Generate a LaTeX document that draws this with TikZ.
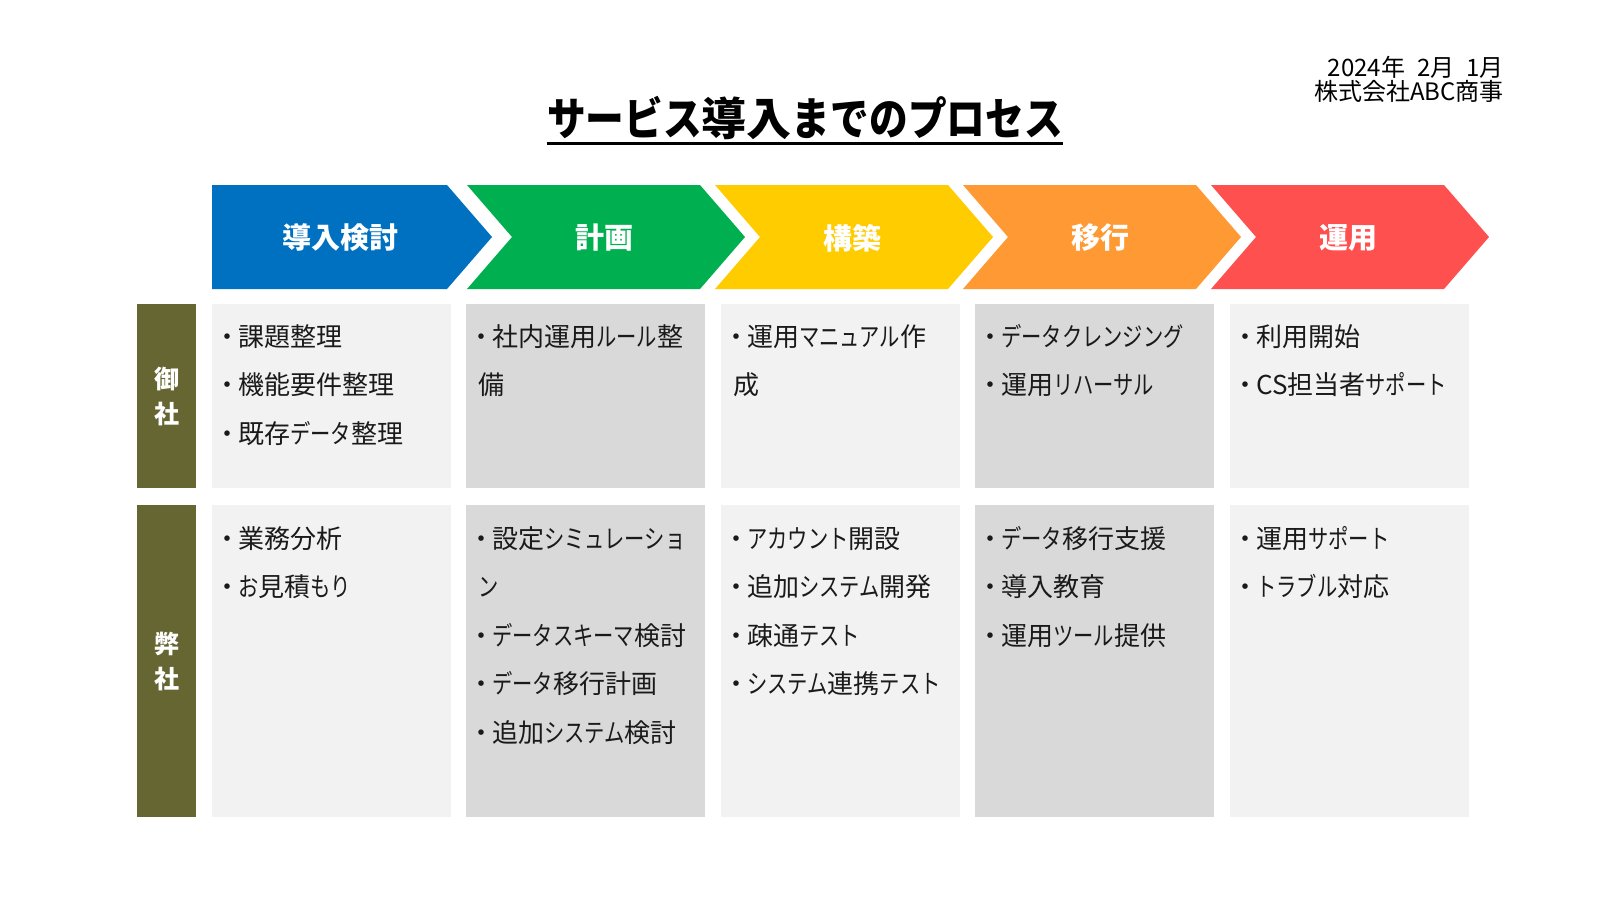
\documentclass[tikz,border=0pt]{standalone}
\usepackage{fontspec}
\setmainfont{Noto Sans CJK JP}
\definecolor{blueA}{HTML}{0070C0}
\definecolor{greenA}{HTML}{00B050}
\definecolor{yellowA}{HTML}{FFCC00}
\definecolor{orangeA}{HTML}{FF9933}
\definecolor{redA}{HTML}{FF5050}
\definecolor{oliveA}{HTML}{666633}
\definecolor{cellA}{HTML}{F2F2F2}
\definecolor{cellB}{HTML}{D9D9D9}
\definecolor{txt}{HTML}{1A1A1A}
\newcommand\bl{\makebox[22pt][c]{・}}
\newcommand\kn[1]{{\addfontfeature{FakeStretch=0.78}#1}}
\newcommand\tk[1]{{\addfontfeature{FakeStretch=0.86}#1}}
\begin{document}
\begin{tikzpicture}[x=1pt,y=-1pt,
  arrowlbl/.style={text=white, inner sep=0, font=\fontsize{29}{29}\selectfont\bfseries},
  sidelbl/.style={text=white, inner sep=0, align=center, font=\fontsize{25}{35}\selectfont\bfseries},
  sidebox/.style={fill=oliveA, draw=none, anchor=north west, minimum width=59, inner sep=0},
  cellbox/.style={draw=none, anchor=north west, minimum width=239, inner sep=0},
  item/.style={anchor=base west, inner sep=0, text=txt, font=\fontsize{26}{26}\selectfont},
  datelbl/.style={anchor=base east, inner sep=0, text=black, font=\fontsize{24}{24}\selectfont}
]
\useasboundingbox (0,0) rectangle (1600,900);
\fill[white] (0,0) rectangle (1600,900);

% title and date
\node[inner sep=0, font=\fontsize{45}{45}\selectfont\bfseries] (title) at (805,118) {\tk{サービス}導入\tk{までのプロセス}};
\draw[line width=3pt] ([yshift=-8pt]title.base west) -- ([yshift=-8pt]title.base east);
\node[datelbl] (date) at (1504,76) {2024年\hspace{12pt}2月\hspace{12pt}1月};
\node[datelbl] (corp) at (1504,100) {株式会社ABC商事};

% process arrows
\fill[blueA] (212,185) -- (447,185) -- (492,237) -- (447,289) -- (212,289) -- cycle;
\fill[greenA] (467,185) -- (700,185) -- (745,237) -- (700,289) -- (467,289) -- (512,237) -- cycle;
\fill[yellowA] (715,185) -- (948,185) -- (993,237) -- (948,289) -- (715,289) -- (760,237) -- cycle;
\fill[orangeA] (963,185) -- (1196,185) -- (1241,237) -- (1196,289) -- (963,289) -- (1008,237) -- cycle;
\fill[redA] (1211,185) -- (1444,185) -- (1489,237) -- (1444,289) -- (1211,289) -- (1256,237) -- cycle;
\node[arrowlbl] (a1) at (340,238) {導入検討};
\node[arrowlbl] (a2) at (604,238) {計画};
\node[arrowlbl] (a3) at (852,238) {構築};
\node[arrowlbl] (a4) at (1100,238) {移行};
\node[arrowlbl] (a5) at (1348,238) {運用};

% side labels
\node[sidebox, minimum height=184] (s1) at (137,304) {};
\node[sidebox, minimum height=312] (s2) at (137,505) {};
\node[sidelbl] (s1t) at (s1.center) {御\\社};
\node[sidelbl] (s2t) at (s2.center) {弊\\社};

% cells row 1
\node[cellbox, fill=cellA, minimum height=184] (c11) at (212,304) {};
\node[cellbox, fill=cellB, minimum height=184] (c12) at (466,304) {};
\node[cellbox, fill=cellA, minimum height=184] (c13) at (721,304) {};
\node[cellbox, fill=cellB, minimum height=184] (c14) at (975,304) {};
\node[cellbox, fill=cellA, minimum height=184] (c15) at (1230,304) {};
% cells row 2
\node[cellbox, fill=cellA, minimum height=312] (c21) at (212,505) {};
\node[cellbox, fill=cellB, minimum height=312] (c22) at (466,505) {};
\node[cellbox, fill=cellA, minimum height=312] (c23) at (721,505) {};
\node[cellbox, fill=cellB, minimum height=312] (c24) at (975,505) {};
\node[cellbox, fill=cellA, minimum height=312] (c25) at (1230,505) {};

% row 1 text
\node[item] (t111) at (216,346) {\bl 課題整理};
\node[item] (t112) at (216,394.5) {\bl 機能要件整理};
\node[item] (t113) at (216,443) {\bl 既存\kn{データ}整理};
\node[item] (t121) at (470,346) {\bl 社内運用\kn{ルール}整};
\node[item] (t122) at (478,394.5) {備};
\node[item] (t131) at (725,346) {\bl 運用\kn{マニュアル}作};
\node[item] (t132) at (733,394.5) {成};
\node[item] (t141) at (979,346) {\bl \kn{データクレンジング}};
\node[item] (t142) at (979,394.5) {\bl 運用\kn{リハーサル}};
\node[item] (t151) at (1234,346) {\bl 利用開始};
\node[item] (t152) at (1234,394.5) {\bl CS担当者\kn{サポート}};

% row 2 text
\node[item] (t211) at (216,548) {\bl 業務分析};
\node[item] (t212) at (216,596.5) {\bl \kn{お}見積\kn{もり}};
\node[item] (t221) at (470,548) {\bl 設定\kn{シミュレーショ}};
\node[item] (t222) at (478,596.5) {\kn{ン}};
\node[item] (t223) at (470,645) {\bl \kn{データスキーマ}検討};
\node[item] (t224) at (470,693.5) {\bl \kn{データ}移行計画};
\node[item] (t225) at (470,742) {\bl 追加\kn{システム}検討};
\node[item] (t231) at (725,548) {\bl \kn{アカウント}開設};
\node[item] (t232) at (725,596.5) {\bl 追加\kn{システム}開発};
\node[item] (t233) at (725,645) {\bl 疎通\kn{テスト}};
\node[item] (t234) at (725,693.5) {\bl \kn{システム}連携\kn{テスト}};
\node[item] (t241) at (979,548) {\bl \kn{データ}移行支援};
\node[item] (t242) at (979,596.5) {\bl 導入教育};
\node[item] (t243) at (979,645) {\bl 運用\kn{ツール}提供};
\node[item] (t251) at (1234,548) {\bl 運用\kn{サポート}};
\node[item] (t252) at (1234,596.5) {\bl \kn{トラブル}対応};
\end{tikzpicture}
\end{document}
